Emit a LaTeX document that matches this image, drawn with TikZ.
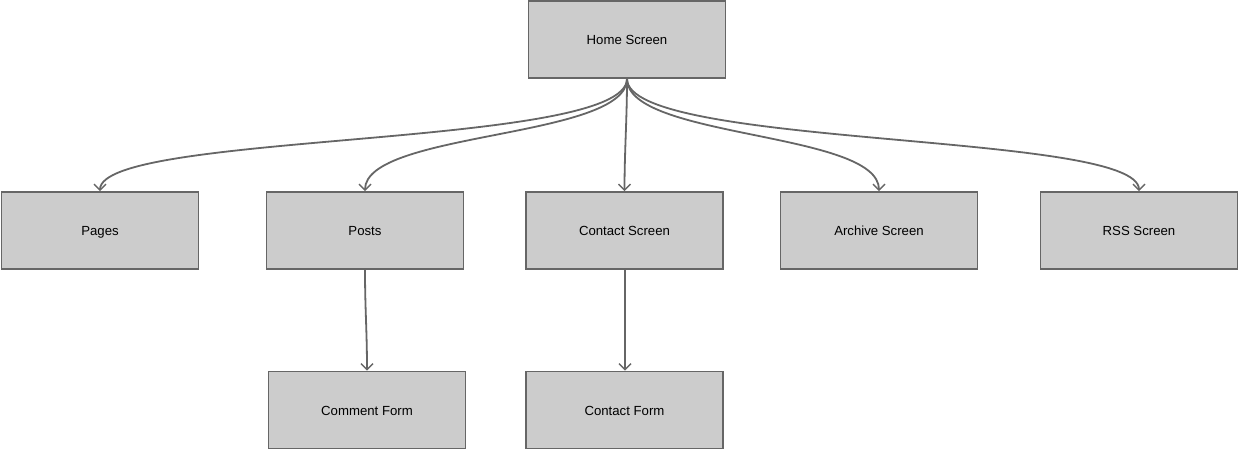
\documentclass[tikz,border=0pt]{standalone}
\usepackage{fontspec}
\setmainfont{Liberation Sans}
\usetikzlibrary{arrows.meta}
\definecolor{boxfill}{HTML}{CCCCCC}
\definecolor{edge}{HTML}{666666}
\tikzset{
  screen/.style={draw=edge, fill=boxfill, line width=1.6pt, minimum width=197pt, minimum height=77pt, inner sep=0pt, text height=11pt, text depth=0.5pt, font=\fontsize{13.2}{15}\selectfont, text=black},
  link/.style={draw=edge, line width=1.8pt, -{Straight Barb[length=6pt,width=12pt,line width=1.4pt]}}
}
\begin{document}
\begin{tikzpicture}[x=1pt,y=-1pt]
\useasboundingbox (0,0) rectangle (1239,450);
\node[screen] (home) at (627,39.5) {Home Screen};
\node[screen] (pages) at (100,230.5) {Pages};
\node[screen] (posts) at (365,230.5) {Posts};
\node[screen] (contact) at (624.5,230.5) {Contact Screen};
\node[screen] (archive) at (879,230.5) {Archive Screen};
\node[screen] (rss) at (1139,230.5) {RSS Screen};
\node[screen] (comment) at (367,410) {Comment Form};
\node[screen] (cform) at (624.5,410) {Contact Form};
\coordinate (csouth) at ([xshift=0.5pt]contact.south);
\coordinate (cfnorth) at ([xshift=0.5pt]cform.north);
\draw[link] (home.south) .. controls ++(0,70) and ++(0,-60) .. (pages.north);
\draw[link] (home.south) .. controls ++(0,60) and ++(0,-60) .. (posts.north);
\draw[link] (home.south) .. controls ++(0,40) and ++(0,-40) .. (contact.north);
\draw[link] (home.south) .. controls ++(0,60) and ++(0,-60) .. (archive.north);
\draw[link] (home.south) .. controls ++(0,70) and ++(0,-60) .. (rss.north);
\draw[link] (posts.south) .. controls ++(0,40) and ++(0,-40) .. (comment.north);
\draw[link] (csouth) -- (cfnorth);
\end{tikzpicture}
\end{document}
